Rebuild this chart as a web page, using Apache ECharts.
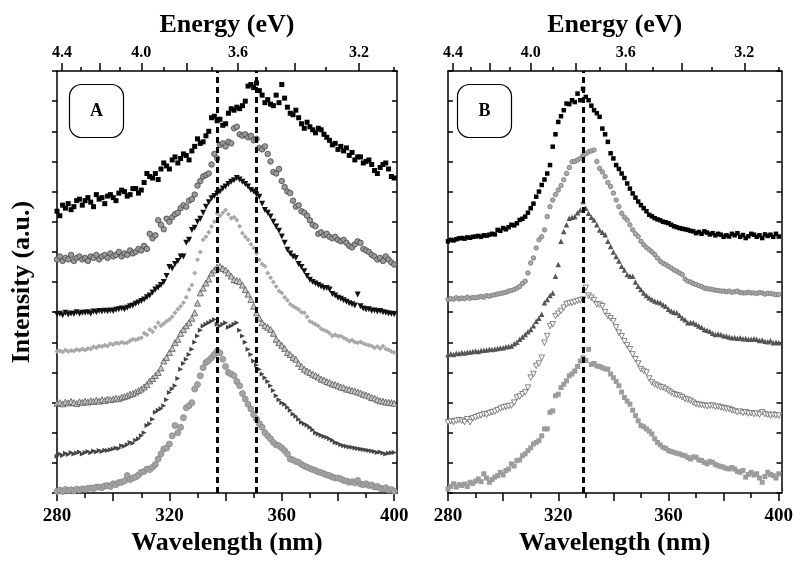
<!DOCTYPE html>
<html>
<head>
<meta charset="utf-8">
<script src="https://cdn.jsdelivr.net/npm/echarts@6/dist/echarts.min.js"></script>
<style>
  html, body { margin: 0; padding: 0; background: #fff; }
  #chart { width: 796px; height: 561px; }
</style>
</head>
<body>
<div id="chart"></div>
<script>
// wavelength grid (nm), shared by all spectra
const wavelength = [
  280,281,282,283,284,285,286,287,288,289,
  290,291,292,293,294,295,296,297,298,299,
  300,301,302,303,304,305,306,307,308,309,
  310,311,312,313,314,315,316,317,318,319,
  320,321,322,323,324,325,326,327,328,329,
  330,331,332,333,334,335,336,337,338,339,
  340,341,342,343,344,345,346,347,348,349,
  350,351,352,353,354,355,356,357,358,359,
  360,361,362,363,364,365,366,367,368,369,
  370,371,372,373,374,375,376,377,378,379,
  380,381,382,383,384,385,386,387,388,389,
  390,391,392,393,394,395,396,397,398,399,
  400
]

// panel A spectra, top to bottom (offset intensities, a.u.)
const a1 = [
  9.35,9.2,9.55,9.45,9.6,9.4,9.5,9.7,9.75,9.55,
  9.7,9.8,9.65,9.5,9.9,9.75,9.8,9.6,9.85,9.9,
  9.8,9.7,9.95,10.05,10.0,9.85,9.9,10.1,10.1,9.95,
  10.05,10.3,10.6,10.5,10.45,10.6,10.4,10.75,10.95,10.85,
  10.75,11.05,11.15,10.95,11.1,11.25,11.2,11.05,11.35,11.5,
  11.75,11.6,11.65,11.85,12.0,12.45,12.5,12.35,12.4,12.2,
  12.25,12.6,12.75,12.7,12.8,12.75,12.85,13.0,13.5,13.55,
  13.45,13.6,13.35,13.2,12.95,13.05,12.9,12.85,13.2,12.95,
  13.55,13.1,12.8,12.6,12.55,12.7,12.45,12.25,12.1,12.3,
  12.15,12.05,11.95,12.1,12.05,11.9,11.8,11.7,11.55,11.6,
  11.4,11.5,11.35,11.45,11.2,11.3,11.05,11.15,11.15,10.95,
  11.0,11.05,10.9,10.7,10.6,10.8,10.9,10.95,10.75,10.5,
  10.45
]
const a2 = [
  7.75,7.85,7.7,7.8,7.75,7.9,7.7,7.8,7.85,7.75,
  7.8,7.7,7.85,7.8,7.9,7.75,7.85,7.9,7.8,7.95,
  7.85,7.9,8.0,7.85,7.95,7.9,8.05,7.95,8.0,8.1,
  8.05,8.2,8.1,8.6,8.45,8.55,9.05,8.9,8.75,9.1,
  9.0,9.15,9.25,9.3,9.45,9.55,9.5,9.7,9.75,9.9,
  10.2,10.35,10.5,10.55,10.6,10.9,11.25,11.1,11.55,11.6,
  11.5,11.65,11.6,12.1,12.15,11.9,11.85,11.9,11.8,11.85,
  11.7,11.75,11.45,11.4,11.5,11.25,11.0,10.65,10.6,10.75,
  10.35,10.15,10.0,9.95,9.7,9.5,9.55,9.35,9.3,9.2,
  9.05,8.9,8.85,8.6,8.65,8.55,8.6,8.5,8.45,8.5,
  8.4,8.35,8.4,8.3,8.2,8.15,8.25,8.35,8.3,8.1,
  8.05,8.0,7.9,7.85,7.75,7.8,7.7,7.85,7.75,7.65,
  7.58
]
const a3 = [
  5.93,5.95,5.9,5.98,5.92,5.96,5.94,6.0,5.95,5.98,
  5.98,6.0,5.96,6.02,6.0,6.04,6.02,6.05,6.03,6.06,
  6.04,6.08,6.1,6.12,6.1,6.15,6.2,6.22,6.28,6.32,
  6.37,6.42,6.5,6.55,6.65,6.75,6.82,6.9,7.0,7.2,
  7.5,7.45,7.6,7.7,7.85,7.85,8.3,8.4,8.73,8.8,
  9.0,9.1,9.3,9.5,9.65,9.78,9.85,9.94,10.0,10.1,
  10.17,10.25,10.33,10.38,10.45,10.4,10.33,10.25,10.17,10.05,
  10.0,9.9,9.83,9.6,9.39,9.3,9.17,9.0,8.84,8.7,
  8.51,8.3,8.07,7.95,7.85,7.8,7.6,7.5,7.36,7.2,
  7.08,7.0,6.95,6.9,6.85,6.8,6.8,6.75,6.6,6.55,
  6.48,6.45,6.4,6.35,6.3,6.26,6.22,6.59,6.2,6.12,
  6.09,6.1,6.05,6.06,6.02,6.04,6.0,5.98,5.96,5.95,
  5.93
]
const a4 = [
  4.7,4.72,4.68,4.75,4.7,4.73,4.71,4.76,4.74,4.78,
  4.75,4.8,4.78,4.85,4.82,4.88,4.86,4.9,4.88,4.95,
  4.93,4.98,4.96,5.0,4.98,4.99,5.05,5.1,5.08,5.12,
  5.15,5.3,5.25,5.43,5.35,5.5,5.65,5.55,5.62,5.7,
  5.76,5.85,5.98,6.1,6.2,6.31,6.5,6.75,6.9,7.3,
  7.74,8.0,8.4,8.5,8.65,8.84,9.0,9.28,9.2,9.3,
  9.39,9.25,9.12,9.15,9.06,8.85,8.62,8.5,8.4,8.25,
  8.13,7.95,7.74,7.6,7.52,7.3,7.14,7.0,6.85,6.7,
  6.64,6.5,6.4,6.26,6.2,6.15,6.09,6.0,5.98,5.85,
  5.7,5.65,5.6,5.54,5.45,5.4,5.37,5.3,5.21,5.25,
  5.2,5.21,5.15,5.1,5.04,5.08,5.0,4.99,5.02,4.96,
  4.93,4.9,4.88,4.82,4.86,4.8,4.88,4.78,4.75,4.7,
  4.66
]
const a5 = [
  2.98,3.0,2.96,3.02,2.99,3.04,3.0,2.97,3.03,3.01,
  3.05,3.02,3.06,3.04,3.08,3.05,3.1,3.07,3.12,3.1,
  3.12,3.15,3.13,3.18,3.2,3.23,3.28,3.3,3.35,3.4,
  3.45,3.52,3.6,3.72,3.8,3.9,4.0,4.15,4.38,4.5,
  4.66,4.8,4.99,5.1,5.3,5.43,5.55,5.65,5.8,5.98,
  6.3,6.64,6.8,6.97,7.1,7.3,7.4,7.5,7.52,7.45,
  7.4,7.3,7.2,7.08,7.05,7.02,6.9,6.75,6.6,6.42,
  6.2,5.98,5.8,5.65,5.55,5.5,5.43,5.3,5.1,4.99,
  4.9,4.8,4.66,4.6,4.5,4.44,4.3,4.2,4.11,4.05,
  4.0,3.94,3.9,3.85,3.78,3.75,3.7,3.67,3.62,3.6,
  3.56,3.52,3.5,3.45,3.44,3.4,3.39,3.35,3.32,3.28,
  3.25,3.22,3.17,3.15,3.1,3.06,3.05,3.02,3.01,3.0,
  2.98
]
const a6 = [
  1.22,1.3,1.25,1.32,1.28,1.35,1.3,1.33,1.36,1.3,
  1.35,1.38,1.34,1.4,1.36,1.41,1.38,1.42,1.41,1.44,
  1.46,1.5,1.48,1.57,1.55,1.6,1.68,1.65,1.75,1.8,
  1.9,2.0,2.24,2.3,2.45,2.68,2.75,2.8,2.9,3.1,
  3.34,3.45,3.56,3.8,4.11,4.3,4.44,4.6,4.77,5.0,
  5.21,5.4,5.54,5.6,5.65,5.7,5.76,5.6,5.54,5.6,
  5.65,5.5,5.54,5.6,5.65,5.4,5.21,5.0,4.77,4.6,
  4.38,4.25,4.11,3.95,3.83,3.7,3.56,3.4,3.23,3.1,
  3.0,2.95,2.85,2.75,2.62,2.55,2.45,2.35,2.3,2.25,
  2.18,2.1,2.0,1.96,1.92,1.88,1.85,1.8,1.75,1.68,
  1.65,1.6,1.57,1.55,1.53,1.52,1.5,1.48,1.46,1.45,
  1.43,1.41,1.4,1.38,1.35,1.36,1.33,1.3,1.32,1.34,
  1.35
]
const a7 = [
  0.06,0.1,0.05,0.12,0.08,0.11,0.07,0.13,0.1,0.14,
  0.12,0.16,0.17,0.15,0.2,0.2,0.18,0.24,0.25,0.22,
  0.31,0.28,0.35,0.36,0.4,0.58,0.45,0.5,0.53,0.6,
  0.69,0.72,0.8,0.78,0.86,0.95,1.13,1.3,1.46,1.5,
  1.63,1.9,2.24,2.0,2.18,2.5,2.83,2.9,3.0,3.45,
  3.6,3.89,4.16,4.33,4.4,4.49,4.6,4.71,4.65,4.44,
  4.2,4.0,3.95,3.89,3.7,3.56,3.3,3.12,2.95,2.79,
  2.6,2.46,2.3,2.18,2.0,1.9,1.8,1.68,1.6,1.57,
  1.5,1.41,1.3,1.13,1.1,1.05,1.02,0.95,0.9,0.86,
  0.82,0.78,0.75,0.7,0.68,0.64,0.6,0.58,0.53,0.5,
  0.5,0.47,0.42,0.4,0.36,0.38,0.34,0.42,0.3,0.28,
  0.31,0.25,0.27,0.2,0.22,0.16,0.14,0.18,0.1,0.12,
  0.06
]

// panel B spectra, top to bottom
const b1 = [
  8.35,8.4,8.38,8.42,8.45,8.46,8.44,8.48,8.47,8.5,
  8.51,8.53,8.5,8.55,8.54,8.57,8.6,8.58,8.73,8.7,
  8.79,8.75,8.82,8.9,8.88,8.95,9.06,9.1,9.17,9.3,
  9.45,9.6,9.83,10.0,10.22,10.4,10.6,10.88,11.49,11.9,
  12.31,12.5,12.7,12.92,12.9,13.03,12.97,13.25,13.03,13.41,
  13.14,13.03,12.85,12.7,12.6,12.48,12.09,11.9,11.65,11.27,
  11.1,10.88,10.75,10.6,10.45,10.27,10.1,9.94,9.8,9.67,
  9.55,9.45,9.35,9.23,9.18,9.12,9.08,9.05,9.0,8.98,
  8.95,8.9,8.85,8.82,8.79,8.77,8.75,8.73,8.7,8.68,
  8.62,8.66,8.6,8.68,8.64,8.58,8.62,8.55,8.6,8.57,
  8.5,8.55,8.51,8.6,8.55,8.62,8.5,8.56,8.46,8.52,
  8.6,8.57,8.5,8.55,8.46,8.58,8.53,8.57,8.5,8.6,
  8.51
]
const b2 = [
  6.42,6.45,6.43,6.48,6.44,6.47,6.45,6.5,6.46,6.49,
  6.48,6.5,6.52,6.5,6.55,6.53,6.56,6.58,6.6,6.62,
  6.64,6.66,6.7,6.72,6.75,6.8,6.85,6.95,7.03,7.3,
  7.63,7.8,8.13,8.4,8.5,8.73,9.17,9.5,9.72,9.9,
  10.05,10.2,10.39,10.6,10.8,10.99,11.0,11.05,11.1,11.21,
  11.25,11.32,11.35,11.38,11.0,10.77,10.65,10.5,10.3,10.17,
  9.95,9.72,9.5,9.28,9.15,9.06,8.9,8.73,8.6,8.51,
  8.35,8.24,8.15,8.07,8.0,7.91,7.8,7.69,7.62,7.58,
  7.52,7.47,7.4,7.36,7.3,7.25,7.1,7.03,7.0,6.95,
  6.92,6.88,6.85,6.8,6.78,6.77,6.75,6.73,6.72,6.7,
  6.7,6.68,6.7,6.66,6.68,6.7,6.65,6.64,6.64,6.66,
  6.64,6.64,6.62,6.65,6.64,6.6,6.63,6.62,6.6,6.58,
  6.59
]
const b3 = [
  4.6,4.62,4.6,4.64,4.63,4.66,4.65,4.67,4.68,4.7,
  4.71,4.7,4.73,4.74,4.75,4.77,4.76,4.78,4.8,4.81,
  4.82,4.85,4.86,4.88,4.95,5.0,5.1,5.18,5.26,5.35,
  5.43,5.55,5.7,5.8,5.93,6.31,6.42,6.55,6.64,7.19,
  7.58,8.35,8.68,8.9,9.12,9.15,9.17,9.3,9.39,9.67,
  9.45,9.28,9.15,9.06,8.9,8.73,8.65,8.57,8.35,8.18,
  8.0,7.85,7.7,7.52,7.4,7.25,7.2,7.19,7.0,6.86,
  6.75,6.64,6.55,6.48,6.42,6.37,6.34,6.31,6.25,6.2,
  6.1,6.04,6.0,5.98,5.9,5.81,5.75,5.65,5.66,5.65,
  5.6,5.54,5.5,5.43,5.4,5.37,5.3,5.26,5.28,5.26,
  5.22,5.21,5.18,5.15,5.16,5.14,5.15,5.12,5.13,5.1,
  5.1,5.12,5.1,5.06,5.08,5.04,5.02,5.05,4.99,5.0,
  4.99
]
const b4 = [
  2.35,2.38,2.36,2.4,2.42,2.4,2.36,2.45,2.35,2.48,
  2.51,2.55,2.58,2.62,2.6,2.65,2.68,2.7,2.75,2.8,
  2.84,2.86,2.88,2.9,3.0,3.17,3.2,3.28,3.34,3.5,
  3.83,3.95,4.22,4.3,4.49,4.99,5.21,5.54,5.6,5.87,
  5.95,6.04,6.15,6.26,6.3,6.31,6.34,6.37,6.4,6.42,
  6.81,6.55,6.48,6.4,6.26,6.25,6.2,6.0,5.87,5.8,
  5.7,5.5,5.32,5.2,5.04,4.9,4.77,4.6,4.44,4.3,
  4.11,4.05,4.0,3.8,3.67,3.6,3.56,3.52,3.5,3.45,
  3.39,3.33,3.28,3.25,3.23,3.18,3.12,3.1,3.06,3.0,
  2.95,2.93,2.92,2.9,2.88,2.9,2.9,2.86,2.87,2.84,
  2.82,2.8,2.79,2.75,2.72,2.68,2.7,2.66,2.68,2.64,
  2.65,2.62,2.64,2.6,2.68,2.62,2.6,2.57,2.6,2.58,
  2.57
]
const b5 = [
  0.14,0.22,0.31,0.2,0.28,0.25,0.3,0.22,0.36,0.32,
  0.4,0.47,0.38,0.64,0.5,0.36,0.45,0.53,0.58,0.69,
  0.6,0.75,0.8,0.97,0.9,1.08,1.1,1.24,1.3,1.41,
  1.5,1.63,1.68,1.74,1.9,2.13,2.13,2.68,2.73,3.23,
  3.28,3.5,3.61,3.72,3.89,3.95,4.05,4.2,4.38,4.49,
  4.4,4.77,4.27,4.3,4.22,4.2,4.16,4.12,4.11,3.95,
  3.83,3.7,3.56,3.35,3.17,3.05,2.95,2.75,2.57,2.4,
  2.24,2.2,2.13,2.05,1.96,1.8,1.68,1.6,1.52,1.48,
  1.41,1.38,1.35,1.32,1.3,1.26,1.24,1.18,1.13,1.2,
  1.19,1.1,1.08,1.02,0.97,1.05,1.02,0.95,0.91,0.88,
  0.86,0.82,0.8,0.85,0.8,0.72,0.69,0.75,0.53,0.62,
  0.69,0.6,0.64,0.5,0.36,0.55,0.69,0.62,0.58,0.5,
  0.64
]

// dashed peak markers (nm)
const peaksA = [337, 351]
const peaksB = [329]

// tick labels
const wlLabels = [280, 320, 360, 400]
const wlMajor = [280, 300, 320, 340, 360, 380, 400]
const wlMinor = [290, 310, 330, 350, 370, 390]
const eLabels = [4.4, 4.0, 3.6, 3.2]
const eMajor = [4.4, 4.2, 4.0, 3.8, 3.6, 3.4, 3.2]
const eMinor = [4.3, 4.1, 3.9, 3.7, 3.5, 3.3, 3.1]

const HC = 1240 // eV*nm
const toNm = e => HC / e
const FONT = '"Liberation Serif", "DejaVu Serif", serif'
const titleStyle = { color: '#000', fontFamily: FONT, fontWeight: 'bold', fontSize: 26 }

const pair = vals => wavelength.map((w, i) => [w, vals[i]])

function xAxesFor(grid) {
  const base = {
    gridIndex: grid, type: 'value', min: 280, max: 401,
    splitLine: { show: false },
  }
  const line = { show: true, lineStyle: { color: '#000', width: 1.5 } }
  return [
    Object.assign({}, base, {
      position: 'bottom',
      axisLine: line,
      axisTick: { inside: false, length: 8, customValues: wlMajor, lineStyle: { color: '#000', width: 1.5 } },
      axisLabel: { customValues: wlLabels, margin: 13, color: '#000', fontFamily: FONT, fontWeight: 'bold', fontSize: 19 },
      name: 'Wavelength (nm)', nameLocation: 'middle', nameGap: 35,
      nameTextStyle: titleStyle,
    }),
    Object.assign({}, base, {
      position: 'bottom',
      axisLine: { show: false },
      axisTick: { inside: false, length: 5, customValues: wlMinor, lineStyle: { color: '#000', width: 1.5 } },
      axisLabel: { show: false },
    }),
    Object.assign({}, base, {
      position: 'top',
      axisLine: line,
      axisTick: { inside: false, length: 8, customValues: eMajor.map(toNm), lineStyle: { color: '#000', width: 1.5 } },
      axisLabel: {
        customValues: eLabels.map(toNm), margin: 10, color: '#000', fontFamily: FONT, fontWeight: 'bold', fontSize: 16,
        formatter: v => (HC / v).toFixed(1),
      },
      name: 'Energy (eV)', nameLocation: 'middle', nameGap: 33,
      nameTextStyle: titleStyle,
    }),
    Object.assign({}, base, {
      position: 'top',
      axisLine: { show: false },
      axisTick: { inside: false, length: 4, customValues: eMinor.map(toNm), lineStyle: { color: '#000', width: 1.5 } },
      axisLabel: { show: false },
    }),
  ]
}

function yAxesFor(grid, leftInside, withName) {
  const base = {
    gridIndex: grid, type: 'value', min: 0, max: 14, interval: 1,
    splitLine: { show: false },
    axisLabel: { show: false },
    axisLine: { show: true, lineStyle: { color: '#000', width: 1.5 } },
  }
  const left = Object.assign({}, base, {
    position: 'left',
    axisTick: { inside: leftInside, length: 5, lineStyle: { color: '#000', width: 1.5 } },
  })
  if (withName) {
    Object.assign(left, {
      name: 'Intensity (a.u.)', nameLocation: 'middle', nameGap: 22,
      nameTextStyle: titleStyle,
    })
  }
  const right = Object.assign({}, base, {
    position: 'right',
    axisTick: { inside: true, length: 5, lineStyle: { color: '#000', width: 1.5 } },
  })
  return [left, right]
}

function spectrum(vals, x, y, sym) {
  return {
    type: 'scatter', xAxisIndex: x, yAxisIndex: y,
    data: pair(vals),
    symbol: sym.shape, symbolSize: sym.size, symbolRotate: sym.rotate || 0,
    itemStyle: { color: sym.fill, borderColor: sym.edge || sym.fill, borderWidth: sym.edge ? 0.8 : 0, opacity: 1 },
    silent: true,
  }
}

function peakLines(peaks) {
  return {
    silent: true, symbol: ['none', 'none'], label: { show: false },
    lineStyle: { color: '#000', type: [6, 4], width: 3 },
    data: peaks.map(p => ({ xAxis: p })),
  }
}

const seriesA = [
  spectrum(a1, 0, 0, { shape: 'rect', size: 5, fill: '#000' }),
  spectrum(a2, 0, 0, { shape: 'circle', size: 5.5, fill: '#9a9a9a', edge: '#444' }),
  spectrum(a3, 0, 0, { shape: 'triangle', size: 6, fill: '#111', rotate: 180 }),
  spectrum(a4, 0, 0, { shape: 'diamond', size: 5, fill: '#a8a8a8' }),
  spectrum(a5, 0, 0, { shape: 'triangle', size: 6, fill: '#c8c8c8', edge: '#555' }),
  spectrum(a6, 0, 0, { shape: 'triangle', size: 5, fill: '#444', rotate: -90 }),
  spectrum(a7, 0, 0, { shape: 'circle', size: 6, fill: '#a4a4a4', edge: '#888' }),
]
seriesA[0].markLine = peakLines(peaksA)

const seriesB = [
  spectrum(b1, 4, 2, { shape: 'rect', size: 4.5, fill: '#000' }),
  spectrum(b2, 4, 2, { shape: 'circle', size: 4.5, fill: '#aaa', edge: '#777' }),
  spectrum(b3, 4, 2, { shape: 'triangle', size: 5.5, fill: '#555' }),
  spectrum(b4, 4, 2, { shape: 'triangle', size: 5.5, fill: '#fff', edge: '#666', rotate: 180 }),
  spectrum(b5, 4, 2, { shape: 'rect', size: 5, fill: '#9c9c9c' }),
]
seriesB[0].markLine = peakLines(peaksB)

function panelTag(x, text) {
  return {
    type: 'group', left: x, top: 82,
    children: [
      { type: 'rect', shape: { x: 0, y: 0, width: 54, height: 53, r: 12 }, style: { fill: 'none', stroke: '#000', lineWidth: 1.2 } },
      { type: 'text', x: 27, y: 27, style: { text: text, font: 'bold 18px ' + FONT, fill: '#000', align: 'center', verticalAlign: 'middle' } },
    ],
  }
}

const chart = echarts.init(document.getElementById('chart'))
chart.setOption({
  backgroundColor: '#fff',
  animation: false,
  grid: [
    { left: 57, top: 71, width: 340, height: 423 },
    { left: 448, top: 71, width: 340, height: 423 },
  ],
  xAxis: xAxesFor(0).concat(xAxesFor(1)),
  yAxis: yAxesFor(0, false, true).concat(yAxesFor(1, true, false)),
  series: seriesA.concat(seriesB),
  graphic: [panelTag(67, 'A'), panelTag(455, 'B')],
})
</script>
</body>
</html>
